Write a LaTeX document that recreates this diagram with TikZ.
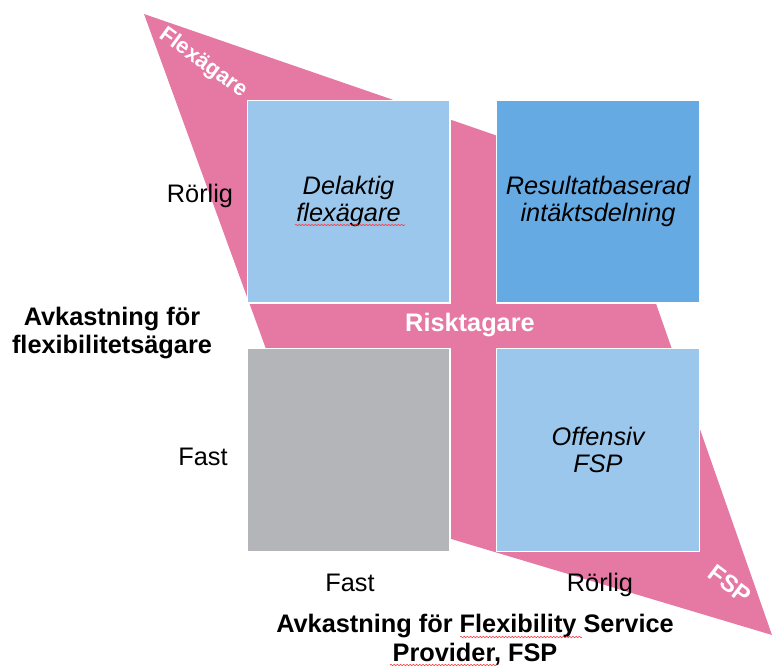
\documentclass[tikz,border=0pt]{standalone}
\usepackage{fontspec}
\setmainfont{Liberation Sans}
\usepackage{xcolor}
\usetikzlibrary{decorations.pathmorphing}

\definecolor{rosa}{RGB}{230,120,164}
\definecolor{ljusbla}{RGB}{155,199,237}
\definecolor{morkbla}{RGB}{102,170,228}
\definecolor{gra}{RGB}{180,181,185}

\begin{document}
\begin{tikzpicture}[x=0.75pt,y=-0.75pt,
	ruta/.style={draw=white,line width=1pt,minimum width=152pt,minimum height=152pt,
		inner sep=0pt,align=center,font=\fontsize{19}{20.5}\selectfont\itshape},
	etikett/.style={inner sep=0pt,font=\fontsize{19}{21}\selectfont},
	rubrik/.style={inner sep=0pt,align=center,font=\fontsize{19}{21.5}\selectfont\bfseries},
	vit/.style={inner sep=0pt,text=white,font=\fontsize{16.5}{18}\selectfont\bfseries},
	stavfel/.style={draw=red!80,line width=0.4pt,decorate,
		decoration={snake,amplitude=0.6pt,segment length=2.4pt}}]
		\useasboundingbox (0,0) rectangle (772,668);
		% the slanted band behind the four boxes
		\fill[rosa] (144,14)
		-- (611,175)
		-- (772,635)
		-- (321,500)
		-- cycle;
		\node[vit,rotate=-36] (flex) at (203,63) {Flexägare};
		\node[vit,rotate=-37,font=\fontsize{18}{20}\selectfont\bfseries] (fsp) at (730,584) {FSP};
		\node[vit,font=\fontsize{19}{21}\selectfont\bfseries] (risk) at (470,325) {Risktagare};
		% the four boxes
		\node[ruta,fill=ljusbla] (delaktig) at (348.5,201.5) {Delaktig\\flexägare};
		\node[ruta,fill=morkbla] (resultat) at (598,201.5) {Resultatbaserad\\intäktsdelning};
		\node[ruta,fill=gra] (fastfast) at (348.5,450) {};
		\node[ruta,fill=ljusbla] (offensiv) at (598,450) {Offensiv\\FSP};
		% axis labels
		\node[etikett,anchor=base] (yrorlig) at (200,202) {Rörlig};
		\node[etikett,anchor=base] (yfast) at (203,465) {Fast};
		\node[etikett,anchor=base] (xfast) at (350,591) {Fast};
		\node[etikett,anchor=base] (xrorlig) at (600,591) {Rörlig};
		\node[rubrik] (yaxel) at (112,333) {Avkastning för\\flexibilitetsägare};
		\node[rubrik] (xaxel) at (475,640) {Avkastning för Flexibility Service\\Provider, FSP};
		% spelling marks
		\draw[stavfel] (295,225) -- (405,225);
		\draw[stavfel] (460,637) -- (582,637);
		\draw[stavfel] (390,665) -- (497,665);
		\end{tikzpicture}
\end{document}
